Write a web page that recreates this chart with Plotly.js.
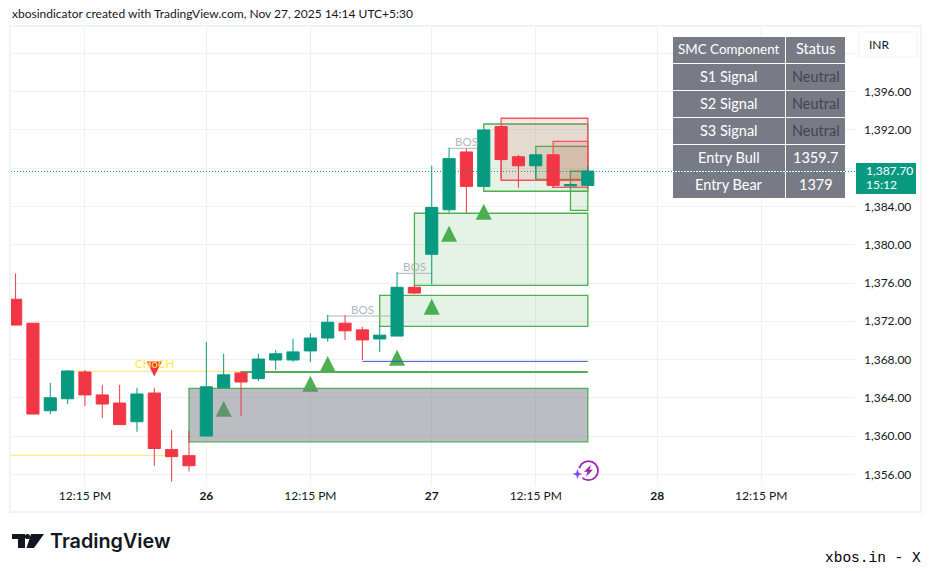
<!DOCTYPE html>
<html><head><meta charset="utf-8">
<script src="https://cdn.plot.ly/plotly-3.0.1.min.js"></script>
<style>html,body{margin:0;padding:0;background:#fff}#c{width:931px;height:571px}</style></head>
<body><div id="c"></div>
<script>
// ---- candle data ----
const barIndex=[0,1,2,3,4,5,6,7,8,9,10,11,12,13,14,15,16,17,18,19,20,21,22,23,24,25,26,27,28,29,30,31,32,33];
const opens=[1374.3,1371.8,1362.65,1363.9,1366.7,1364.3,1363.45,1361.5,1364.5,1358.6,1357.95,1360.0,1365.05,1366.6,1366.0,1367.95,1367.95,1368.9,1370.25,1371.8,1371.1,1370.15,1370.45,1375.55,1379.0,1383.65,1389.7,1386.1,1392.35,1389.2,1388.25,1389.4,1386.15,1386.2];
const highs=[1377.0,1371.8,1365.55,1366.9,1366.9,1365.35,1365.35,1365.05,1365.05,1360.65,1360.55,1369.85,1368.6,1366.8,1368.6,1369.0,1370.15,1370.75,1372.65,1372.65,1371.4,1371.6,1377.15,1375.8,1388.25,1390.15,1390.05,1392.0,1392.35,1389.4,1389.4,1389.4,1386.35,1388.25];
const lows=[1371.6,1362.3,1362.3,1363.35,1363.15,1361.9,1361.2,1360.45,1356.9,1355.25,1356.3,1360.0,1365.05,1362.1,1365.75,1366.9,1367.75,1367.75,1369.85,1370.05,1367.95,1368.8,1370.45,1374.85,1375.85,1383.35,1383.35,1386.1,1386.9,1385.95,1386.9,1385.9,1386.15,1386.2];
const closes=[1371.6,1362.3,1364.0,1366.8,1364.3,1363.35,1361.2,1364.4,1358.7,1357.85,1356.9,1365.15,1366.4,1365.65,1368.05,1368.6,1368.8,1370.25,1371.9,1371.0,1370.05,1370.55,1375.55,1374.95,1383.9,1389.0,1386.1,1392.0,1388.9,1388.25,1389.4,1386.2,1386.3,1387.7];
// ---- axes ----
const xTickVals=[4,11,17,24,30,37,43];
const xTickText=['12:15 PM','<b>26</b>','12:15 PM','<b>27</b>','12:15 PM','<b>28</b>','12:15 PM'];
const yTickVals=[1356,1360,1364,1368,1372,1376,1380,1384,1388,1392,1396,1400];
const yTickText=['1,356.00','1,360.00','1,364.00','1,368.00','1,372.00','1,376.00','1,380.00','1,384.00','','1,392.00','1,396.00',''];
// ---- zones: [startBar,endBar,low,high] ----
const grayZone=[10,33,1359.4,1364.99];
const greenZones=[[21,33,1371.47,1374.71],[23,33,1375.76,1383.29],[27,33,1385.59,1392.62],[30,33,1386.84,1390.29],[32,33,1383.6,1387.68]];
const redZones=[[28,33,1386.74,1393.22],[31,33,1386.0,1390.81]];
// ---- levels: [startBar,endBar,price,colour,width] ----
const levels=[[-1,9,1357.99,'#ffe566',1],[3,13,1366.77,'#ffe566',1],[13,33,1366.7,'#4caf50',2],[20,33,1367.81,'#3a55c0',1],
 [18,22,1372.55,'#b2b5be',1],[22,24,1377.01,'#b2b5be',1],[25,27,1390.08,'#b2b5be',1]];
const bosLabels=[[20,1373.25],[23,1377.75],[26,1390.8]];
// ---- signals ----
const upBars=[12,17,18,22,24,25,27];
const upPrices=[1362.86,1365.46,1367.53,1368.19,1373.51,1381.14,1383.44];
const chochBar=8, chochPrice=1367.0;
// ---- table ----
const tableCol1=['SMC Component','S1 Signal','S2 Signal','S3 Signal','Entry Bull','Entry Bear'];
const tableCol2=['Status','Neutral','Neutral','Neutral','1359.7','1379'];
const lastPriceLine=1387.66;

const W=931,H=571,L=11,R=855,T=27,B=486;
const fx=p=>(p-L)/(R-L), fy=p=>(B-p)/(B-T);
const FONT='Lato,sans-serif';
const shapes=[],ann=[];
const TRI='M-8,-8 L8,-8 L0,8 Z', TRID='M-7.5,7.5 L7.5,7.5 L0,-7.5 Z';
function marker(x,y,path,color){shapes.push({type:'path',layer:'between',xref:'x',yref:'y',xsizemode:'pixel',ysizemode:'pixel',xanchor:x,yanchor:y,path:path,fillcolor:color,line:{width:0}});}
function zone(z,fill,line){shapes.push({type:'rect',layer:'between',xref:'x',yref:'y',x0:z[0],x1:z[1],y0:z[2],y1:z[3],fillcolor:fill,line:{color:line,width:1.3}});}
function box(x0,y0,x1,y1,o){shapes.push(Object.assign({type:'rect',layer:'above',xref:'paper',yref:'paper',x0:fx(x0),x1:fx(x1),y0:fy(y0),y1:fy(y1),line:{width:0}},o));}
function txt(s,x,y,size,color,anchor,extra){ann.push(Object.assign({xref:'paper',yref:'paper',x:fx(x),y:fy(y),text:s,showarrow:false,xanchor:anchor||'left',yanchor:'middle',font:{family:FONT,size:size,color:color}},extra||{}));}

upBars.forEach((b,i)=>marker(b,upPrices[i],TRI,'#4caf50'));
zone(grayZone,'rgba(120,123,134,0.5)','#4caf50');
greenZones.forEach(z=>zone(z,'rgba(76,175,80,0.15)','#4caf50'));
redZones.forEach(z=>zone(z,'rgba(242,54,69,0.13)','#f7525f'));
levels.forEach(l=>shapes.push({type:'line',layer:'between',xref:'x',yref:'y',x0:l[0],x1:l[1],y0:l[2],y1:l[2],line:{color:l[3],width:l[4]}}));
marker(chochBar,chochPrice,TRID,'#f23645');

// frame
box(10,26,921,512,{line:{color:'#f0f3fa',width:2},fillcolor:'rgba(0,0,0,0)'});
// table
const colX=[[673,785],[786,845]], rowY=[[37,63],[64,90],[91,117],[118,144],[145,171],[172,198]];
rowY.forEach((r,i)=>{
  colX.forEach(c=>box(c[0],r[0],c[1],r[1],{fillcolor:'#787b86'}));
  txt(tableCol1[i],729,(r[0]+r[1])/2-1,i===0?13.4:14.5,'#ffffff','center');
  const neutral=tableCol2[i]==='Neutral';
  txt(tableCol2[i],815.5,(r[0]+r[1])/2-1,14.5,neutral?'#434651':'#ffffff','center');
});
// last price line
shapes.push({type:'line',layer:'above',xref:'paper',yref:'y',x0:0,x1:1,y0:lastPriceLine,y1:lastPriceLine,line:{color:'#089981',width:1,dash:'1px,2px'}});
// price tag
box(856,163,916,194,{fillcolor:'#089981'});
txt('1,387.70',864,170.5,12,'#ffffff');
txt('15:12',864,184.5,12,'#ffffff');
// INR
box(859,32,917,57,{fillcolor:'#ffffff',line:{color:'#f0f3fa',width:1}});
txt('INR',867,44.5,12,'#131722');
// header
txt('xbosindicator created with TradingView.com, Nov 27, 2025 14:14 UTC+5:30',10,14,12,'#131722');
// BOS + CHoCH
bosLabels.forEach(b=>ann.push({xref:'x',yref:'y',x:b[0],y:b[1],text:'BOS',showarrow:false,font:{family:FONT,size:11.5,color:'#b2b5be'}}));
ann.push({xref:'x',yref:'y',x:chochBar,y:1367.55,text:'CHoCH',showarrow:false,font:{family:FONT,size:11.5,color:'#ffeb3b'}});
// purple badge
function circ(x,y,r,o){shapes.push(Object.assign({type:'circle',layer:'above',xref:'paper',yref:'paper',xsizemode:'pixel',ysizemode:'pixel',xanchor:fx(x),yanchor:fy(y),x0:-r,x1:r,y0:-r,y1:r,line:{width:0}},o));}
const pe=(x,y,d,o)=>shapes.push(Object.assign({type:'path',layer:'above',xref:'paper',yref:'paper',xsizemode:'pixel',ysizemode:'pixel',xanchor:fx(x),yanchor:fy(y),path:d,line:{width:0}},o));
circ(588.5,470.7,9.5,{fillcolor:'rgba(0,0,0,0)',line:{color:'#9c27b0',width:1.8}});
pe(589,470.7,'M-5,-1 L2,6 L0.5,1 L4,1 L-3,-6 L-1.5,-1 Z',{fillcolor:'#9c27b0'});
circ(578,474,6,{fillcolor:'#ffffff'});
pe(577.5,474,'M0,5 L1.3,1.3 L5,0 L1.3,-1.3 L0,-5 L-1.3,-1.3 L-5,0 L-1.3,1.3 Z',{fillcolor:'#7b4dff'});
// TV logo
pe(12,534,'M0,0 L13,0 L13,-14 L6,-14 L6,-5 L0,-5 Z',{fillcolor:'#131722'});
pe(12,534,'M19,0 L32,0 L22,-14 L14.5,-14 Z',{fillcolor:'#131722'});
circ(27.5,536.5,2.6,{fillcolor:'#131722'});
txt('TradingView',47.5,541,20,'#131722','left',{font:{family:'Inter,sans-serif',size:19.8,color:'#131722',weight:600}});
txt('xbos.in - X',822.5,557.5,14,'#000000','left',{font:{family:'"Liberation Mono",monospace',size:14.5,color:'#000000'}});

const trace={type:'candlestick',x:barIndex,open:opens,high:highs,low:lows,close:closes,whiskerwidth:0,
  increasing:{line:{color:'#089981',width:1},fillcolor:'#089981'},decreasing:{line:{color:'#f23645',width:1},fillcolor:'#f23645'},hoverinfo:'skip',showlegend:false};
const tf={size:12,color:'#131722',family:FONT};
const layout={width:W,height:H,margin:{l:L,r:W-R,t:T,b:H-B,pad:0},paper_bgcolor:'#fff',plot_bgcolor:'#fff',showlegend:false,boxmode:'overlay',boxgap:0,
  font:{family:FONT,size:12,color:'#131722'},shapes:shapes,annotations:ann,
  xaxis:{range:[-0.265,48.41],rangeslider:{visible:false},tickmode:'array',tickvals:xTickVals,ticktext:xTickText,ticks:'',ticklabelstandoff:1,showline:false,zeroline:false,gridcolor:'#f0f1f4',gridwidth:1,tickfont:tf},
  yaxis:{range:[1354.78,1402.76],side:'right',tickmode:'array',tickvals:yTickVals,ticktext:yTickText,ticks:'',ticklabelstandoff:8,showline:false,zeroline:false,gridcolor:'#f0f1f4',gridwidth:1,tickfont:tf}};
Plotly.newPlot('c',[trace],layout,{displayModeBar:false,staticPlot:true});
</script></body></html>
